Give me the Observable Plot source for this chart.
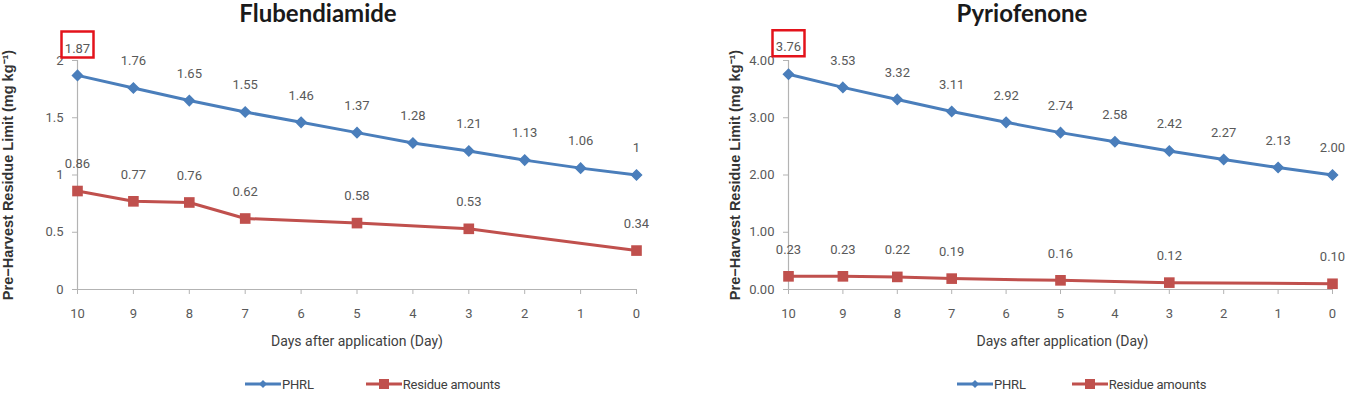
<!DOCTYPE html>
<html><head><meta charset="utf-8">
<script src="https://cdn.jsdelivr.net/npm/d3@7"></script>
<script src="https://cdn.jsdelivr.net/npm/@observablehq/plot@0.6"></script>
<style>
body{margin:0;background:#fff;width:1358px;height:398px;position:relative;overflow:hidden;font-family:Roboto,"Liberation Sans",sans-serif;}
.title{position:absolute;top:0px;font:bold 24px Lato,"Open Sans",sans-serif;color:#1a1a1a;transform:translateX(-50%);white-space:nowrap;line-height:26px}
.panel{position:absolute;top:28px}
.legend{position:absolute;top:376px;height:16px;display:flex;align-items:center;font-size:13px;color:#404040;white-space:nowrap;letter-spacing:-0.2px}
.legend .item{display:flex;align-items:center}
</style></head><body>
<script>
// ---- data ----
const days = [10, 9, 8, 7, 6, 5, 4, 3, 2, 1, 0];
const residueDays = [10, 9, 8, 7, 5, 3, 0];

const fluTitle = "Flubendiamide";
const fluPHRL = [1.87, 1.76, 1.65, 1.55, 1.46, 1.37, 1.28, 1.21, 1.13, 1.06, 1];
const fluResidue = [0.86, 0.77, 0.76, 0.62, 0.58, 0.53, 0.34];
const fluYTicks = [0, 0.5, 1, 1.5, 2];

const pyrTitle = "Pyriofenone";
const pyrPHRL = [3.76, 3.53, 3.32, 3.11, 2.92, 2.74, 2.58, 2.42, 2.27, 2.13, 2.00];
const pyrResidue = [0.23, 0.23, 0.22, 0.19, 0.16, 0.12, 0.10];
const pyrYTicks = [0, 1, 2, 3, 4];

const seriesNames = ["PHRL", "Residue amounts"];
const seriesColors = ["#4a7ebb", "#c0504d"];
const xLabel = "Days after application (Day)";
const yLabel = "Pre\u2212Harvest Residue Limit (mg kg\u207B\u00B9)";

// ---- drawing ----
const boxSymbol = {draw(ctx) { ctx.rect(-16, -13, 32, 26); }};

function makePanel(o) {
  const phrl = days.map((d, i) => ({day: d, v: o.phrl[i]}));
  const res = residueDays.map((d, i) => ({day: d, v: o.residue[i]}));
  const highlight = phrl.slice(0, 1);
  const labelFont = {fill: "#595959", fontSize: 13};
  return Plot.plot({
    width: o.width, height: 334,
    marginLeft: o.ml, marginRight: o.mr, marginTop: 32, marginBottom: 73,
    style: {fontFamily: 'Roboto,"Liberation Sans",sans-serif', fontSize: "13px", background: "transparent", overflow: "visible"},
    x: {domain: [days[0], days[days.length - 1]]},
    y: {domain: [o.yTicks[0], o.yTicks[o.yTicks.length - 1]]},
    marks: [
      Plot.ruleY([o.yTicks[0]], {stroke: "#b3b3b3", strokeWidth: 1.2}),
      Plot.ruleX([days[0]], {stroke: "#b3b3b3", strokeWidth: 1.2}),
      Plot.axisY({ticks: o.yTicks, tickFormat: o.fmt, tickSize: 5, tickPadding: 9, stroke: "#b3b3b3", fill: "#595959", label: null}),
      Plot.axisX({ticks: days, tickFormat: d => String(d), tickSize: 5, tickPadding: 14, stroke: "#b3b3b3", fill: "#595959", label: null}),
      Plot.line(phrl, {x: "day", y: "v", stroke: seriesColors[0], strokeWidth: 3}),
      Plot.dot(phrl, {x: "day", y: "v", symbol: "diamond2", r: 4.5, fill: seriesColors[0], stroke: seriesColors[0]}),
      Plot.line(res, {x: "day", y: "v", stroke: seriesColors[1], strokeWidth: 3}),
      Plot.dot(res, {x: "day", y: "v", symbol: "square", r: 6, fill: seriesColors[1]}),
      Plot.text(phrl, {x: "day", y: "v", text: d => o.lfmt(d.v), dy: -27, ...labelFont}),
      Plot.text(res, {x: "day", y: "v", text: d => o.lfmt(d.v), dy: -27, ...labelFont}),
      Plot.dot(highlight, {x: "day", y: "v", symbol: boxSymbol, fill: "none", stroke: "#e3131b", strokeWidth: 2.5, dy: -31}),
      Plot.text([xLabel], {text: d => d, frameAnchor: "bottom", dy: 56, dx: o.xlDx, fill: "#404040", fontSize: 14}),
      Plot.text([yLabel], {text: d => d, frameAnchor: "left", textAnchor: "middle", rotate: -90, dx: o.ylDx, fill: "#333333", fontSize: 14.5, fontWeight: "bold", fontFamily: '"Liberation Sans",Arial,sans-serif'})
    ]
  });
}

function addTitle(text, cx) {
  const t = document.createElement("div");
  t.className = "title"; t.textContent = text; t.style.left = cx + "px";
  document.body.appendChild(t);
}

function swatch(i) {
  const ns = "http://www.w3.org/2000/svg";
  const s = document.createElementNS(ns, "svg");
  s.setAttribute("width", 36); s.setAttribute("height", 14);
  const l = document.createElementNS(ns, "line");
  l.setAttribute("x1", 0); l.setAttribute("x2", 36); l.setAttribute("y1", 7); l.setAttribute("y2", 7);
  l.setAttribute("stroke", seriesColors[i]); l.setAttribute("stroke-width", 3);
  s.appendChild(l);
  const m = document.createElementNS(ns, "path");
  m.setAttribute("d", i === 0 ? "M18,3L22,7L18,11L14,7Z" : "M13,2H23V12H13Z");
  m.setAttribute("fill", seriesColors[i]);
  s.appendChild(m);
  return s;
}

function addLegend(left, gap) {
  const lg = document.createElement("div");
  lg.className = "legend"; lg.style.left = left + "px";
  seriesNames.forEach((n, i) => {
    const it = document.createElement("div");
    it.className = "item";
    if (i > 0) it.style.marginLeft = gap + "px";
    it.appendChild(swatch(i));
    const tx = document.createElement("span");
    tx.textContent = n; tx.style.marginLeft = "1px";
    it.appendChild(tx);
    lg.appendChild(it);
  });
  document.body.appendChild(lg);
}

const left = makePanel({phrl: fluPHRL, residue: fluResidue, yTicks: fluYTicks,
  fmt: d3.format(""), lfmt: d3.format(""), width: 679, ml: 77, mr: 43, ylDx: -69, xlDx: 0});
left.classList.add("panel"); left.style.left = "0px";
document.body.appendChild(left);

const right = makePanel({phrl: pyrPHRL, residue: pyrResidue, yTicks: pyrYTicks,
  fmt: d3.format(".2f"), lfmt: d3.format(".2f"), width: 679, ml: 109, mr: 26, ylDx: -53, xlDx: 2});
right.classList.add("panel"); right.style.left = "679px";
document.body.appendChild(right);

addTitle(fluTitle, 318);
addTitle(pyrTitle, 1022);
addLegend(245, 52);
addLegend(957, 46);
</script>
</body></html>
